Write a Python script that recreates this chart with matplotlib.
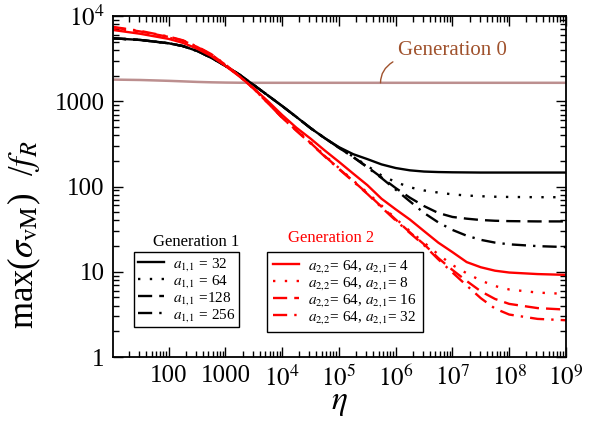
import numpy as np
import matplotlib
matplotlib.use('Agg')
import matplotlib.pyplot as plt
from matplotlib.ticker import FixedLocator, FixedFormatter, LogLocator, NullFormatter

plt.rcParams['font.family'] = ['Liberation Serif', 'DejaVu Serif']
plt.rcParams['mathtext.fontset'] = 'stix'

# eta: half decades up to 100, quarter decades 100 .. 1e8, then half decades
eta = [1e1, 3.16e1, 1e2, 1.78e2, 3.16e2, 5.62e2, 1e3, 1.78e3, 3.16e3, 5.62e3,
       1e4, 1.78e4, 3.16e4, 5.62e4, 1e5, 1.78e5, 3.16e5, 5.62e5,
       1e6, 1.78e6, 3.16e6, 5.62e6, 1e7, 1.78e7, 3.16e7, 5.62e7,
       1e8, 3.16e8, 1e9]

# Generation 0
gen0 = [1800, 1780, 1740, 1715, 1690, 1672, 1660, 1653, 1650, 1650,
        1650, 1650, 1650, 1650, 1650, 1650, 1650, 1650,
        1650, 1650, 1650, 1650, 1650, 1650, 1650, 1650,
        1650, 1650, 1650]

# Generation 1, a_{1,1} = 32, 64, 128, 256
g1_32 = [5500, 5250, 4800, 4450, 3900, 3250, 2600, 2050, 1550, 1170,
         880, 655, 485, 370, 290, 240, 210, 182,
         165, 155, 150, 148, 147, 146.5, 146, 146,
         146, 146, 146]
g1_64 = [5500, 5250, 4800, 4450, 3900, 3250, 2600, 2050, 1550, 1170,
         880, 655, 485, 370, 285, 225, 175, 135,
         113, 98, 90, 85, 81, 78.5, 77, 76,
         75.5, 75, 75]
g1_128 = [5500, 5250, 4800, 4450, 3900, 3250, 2600, 2050, 1550, 1170,
          880, 655, 485, 370, 285, 222, 170, 128,
          96, 74, 59, 49, 44, 42, 40.5, 39.7,
          39.3, 39, 39]
g1_256 = [5500, 5250, 4800, 4450, 3900, 3250, 2600, 2050, 1550, 1170,
          880, 655, 485, 370, 285, 222, 168, 126,
          92, 67, 49, 38, 31, 26.5, 23.7, 22,
          21, 20, 19.5]

# Generation 2, a_{2,2} = 64, a_{2,1} = 4, 8, 16, 32
g2_4 = [6900, 6200, 5400, 4850, 4150, 3400, 2600, 1950, 1420, 1000,
        690, 490, 365, 265, 195, 142, 104, 72,
        54, 41, 30, 22, 17, 13, 11.3, 10.3,
        9.8, 9.4, 9.2]
g2_8 = [7200, 6450, 5600, 5050, 4300, 3500, 2650, 1950, 1400, 960,
        650, 460, 330, 232, 165, 118, 85, 60,
        42, 30, 22, 16, 12, 9.6, 7.9, 6.8,
        6.2, 5.7, 5.5]
g2_16 = [7400, 6600, 5700, 5150, 4350, 3550, 2680, 1960, 1400, 950,
         640, 455, 325, 228, 162, 116, 83, 58,
         41, 29, 21, 14.5, 10.5, 7.8, 5.9, 4.8,
         4.2, 3.75, 3.6]
g2_32 = [7500, 6700, 5750, 5200, 4400, 3580, 2700, 1970, 1410, 950,
         640, 450, 320, 225, 160, 115, 82, 57,
         40, 28.5, 20.5, 14, 9.8, 6.9, 4.9, 3.7,
         3.15, 2.8, 2.7]

x_ticks = [1e2, 1e3, 1e4, 1e5, 1e6, 1e7, 1e8, 1e9]
x_labels = ['100', '1000', '$10^4$', '$10^5$', '$10^6$', '$10^7$', '$10^8$', '$10^9$']
y_ticks = [1, 10, 100, 1000, 1e4]
y_labels = ['1', '10', '100', '1000', '$10^4$']

dotted = (0, (1, 4))
dashed = (0, (6, 3))
dashdot = (0, (6, 3, 1, 3))
lw = 1.7

fig = plt.figure(figsize=(5.99, 4.24), dpi=100)
ax = fig.add_axes([0.1886, 0.158, 0.7562, 0.804])

ax.plot(eta, gen0, color='#bc8f8f', lw=1.8)

l1 = ax.plot(eta, g1_32, color='black', lw=lw, ls='-', label=r'$a_{1,\!1}$ = 32')
l2 = ax.plot(eta, g1_64, color='black', lw=lw, ls=dotted, label=r'$a_{1,\!1}$ = 64')
l3 = ax.plot(eta, g1_128, color='black', lw=lw, ls=dashed, label=r'$a_{1,\!1}$ =128')
l4 = ax.plot(eta, g1_256, color='black', lw=lw, ls=dashdot, label=r'$a_{1,\!1}$ = 256')

r1 = ax.plot(eta, g2_4, color='red', lw=lw, ls='-', label=r'$a_{2,\!2}$= 64, $a_{2,\!1}$= 4')
r2 = ax.plot(eta, g2_8, color='red', lw=lw, ls=dotted, label=r'$a_{2,\!2}$= 64, $a_{2,\!1}$= 8')
r3 = ax.plot(eta, g2_16, color='red', lw=lw, ls=dashed, label=r'$a_{2,\!2}$= 64, $a_{2,\!1}$= 16')
r4 = ax.plot(eta, g2_32, color='red', lw=lw, ls=dashdot, label=r'$a_{2,\!2}$= 64, $a_{2,\!1}$= 32')

ax.set_xscale('log')
ax.set_yscale('log')
ax.set_xlim(10.4, 1e9)
ax.set_ylim(1, 1e4)

ax.xaxis.set_major_locator(FixedLocator(x_ticks))
ax.xaxis.set_major_formatter(FixedFormatter(x_labels))
ax.yaxis.set_major_locator(FixedLocator(y_ticks))
ax.yaxis.set_major_formatter(FixedFormatter(y_labels))
ax.xaxis.set_minor_locator(LogLocator(base=10, subs=np.arange(2, 10), numticks=20))
ax.yaxis.set_minor_locator(LogLocator(base=10, subs=np.arange(2, 10), numticks=20))
ax.xaxis.set_minor_formatter(NullFormatter())
ax.yaxis.set_minor_formatter(NullFormatter())
ax.tick_params(which='both', direction='in', top=True, right=True, width=1.0)
ax.tick_params(which='major', length=7, labelsize=18, pad=6)
ax.tick_params(which='minor', length=4)
for s in ax.spines.values():
    s.set_linewidth(1.3)

ax.set_xlabel(r'$\eta$', fontsize=24, labelpad=-2)
ax.set_ylabel(r'max($\sigma_{\rm vM}$)  /$f_R$', fontsize=25)
ax.yaxis.set_label_coords(-0.155, 0.36)

# Generation 0 label with curved leader
ax.annotate('Generation 0', xy=(5.4e5, 1650), xytext=(1.1e6, 3900),
            fontsize=15, color='#a0522d', ha='left', va='center',
            arrowprops=dict(arrowstyle='-', color='#a0522d', lw=1.0,
                            shrinkA=2, shrinkB=0,
                            connectionstyle='angle3,angleA=0,angleB=90'))

leg1 = ax.legend(handles=l1 + l2 + l3 + l4, loc='upper left',
                 bbox_to_anchor=(0.046, 0.308), fontsize=11, frameon=True,
                 fancybox=False, edgecolor='black', framealpha=1,
                 handlelength=1.7, handletextpad=0.6, labelspacing=0.0,
                 borderpad=0.25, borderaxespad=0)
leg1.get_frame().set_linewidth(1.0)
ax.add_artist(leg1)
ax.text(0.183, 0.338, 'Generation 1', transform=ax.transAxes, fontsize=12,
        ha='center', va='center', color='black')

leg2 = ax.legend(handles=r1 + r2 + r3 + r4, loc='upper left',
                 bbox_to_anchor=(0.34, 0.308), fontsize=11, frameon=True,
                 fancybox=False, edgecolor='black', framealpha=1,
                 handlelength=1.7, handletextpad=0.6, labelspacing=0.0,
                 borderpad=0.4, borderaxespad=0)
leg2.get_frame().set_linewidth(1.0)
ax.text(0.481, 0.35, 'Generation 2', transform=ax.transAxes, fontsize=12,
        ha='center', va='center', color='red')

fig.savefig('out.png', dpi=100)
